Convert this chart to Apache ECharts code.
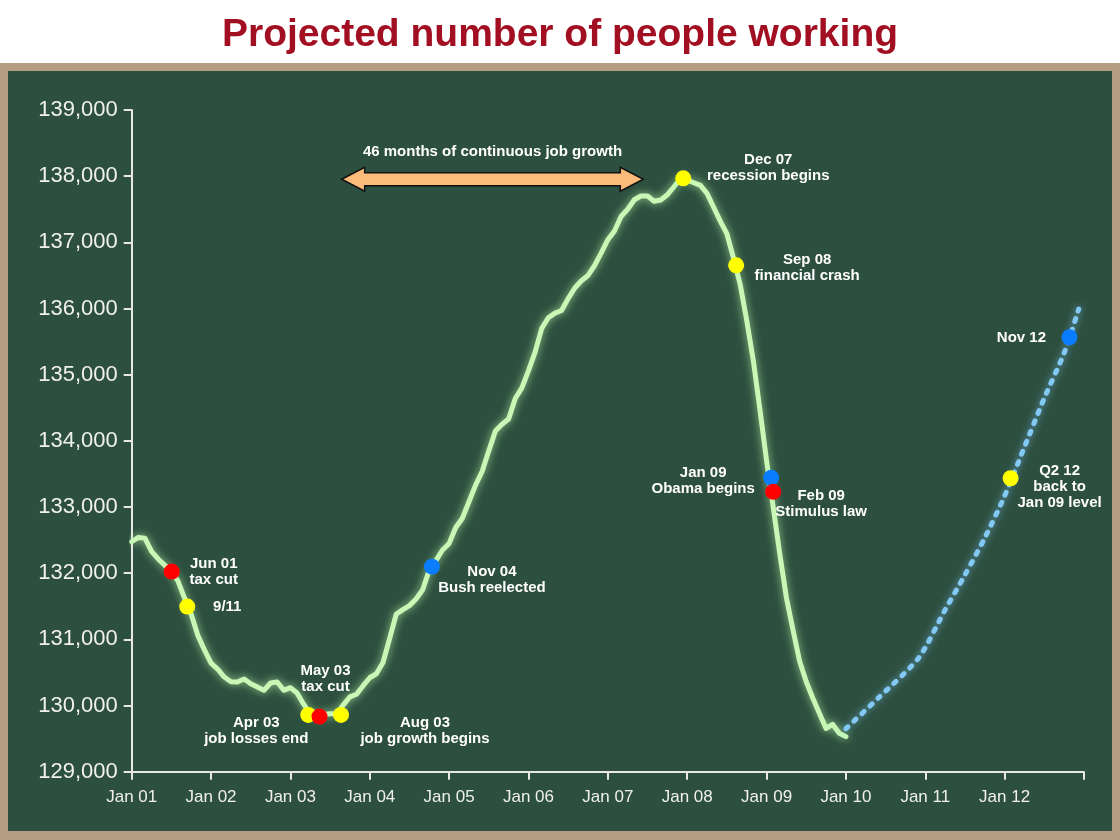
<!DOCTYPE html>
<html>
<head>
<meta charset="utf-8">
<script src="https://cdn.jsdelivr.net/npm/echarts@6/dist/echarts.min.js"></script>
<style>
  html, body { margin: 0; padding: 0; background: #ffffff; }
  #chart { width: 1120px; height: 840px; }
</style>
</head>
<body>
<div id="chart"></div>
<script>
// ---------- DATA ----------
// Monthly payroll employment (thousands), month index 0 = Jan 01
const actualValues = [
  132475, 132540, 132530, 132330, 132215, 132120, 132037, 131880, 131620, 131380, 131060, 130840,
  130640, 130550, 130430, 130360, 130355, 130400, 130330, 130280, 130230, 130340, 130355, 130230,
  130270, 130190, 130020, 129870, 129855, 129865, 129877, 129877, 130010, 130130, 130170, 130300,
  130420, 130480, 130650, 131010, 131380, 131450, 131510, 131610, 131750, 132050, 132190, 132350,
  132450, 132690, 132830, 133080, 133330, 133540, 133850, 134150, 134250, 134330, 134640, 134800,
  135060, 135340, 135700, 135860, 135930, 135970, 136150, 136310, 136420, 136500, 136650, 136840,
  137040, 137170, 137391, 137500, 137643, 137700, 137700, 137620, 137640, 137720, 137840, 137965,
  137940, 137900, 137860, 137740, 137530, 137320, 137130, 136760, 136370, 135820, 135210, 134470,
  133700, 133000, 132290, 131630, 131140, 130670, 130360, 130110, 129880, 129653, 129715, 129580,
  129530
];
// Projection (dotted)
const projMonths = [108, 113, 119, 123, 126, 129, 132, 135, 138, 141, 143.2];
const projValues = [129650, 130124, 130720, 131446, 131974, 132533, 133168, 133908, 134648, 135328, 135990];

// Event markers
const eventMonths = [6.05, 8.4, 26.7, 28.4, 31.65, 45.4, 83.4, 91.4, 96.7, 97.0, 132.9, 141.8];
const eventValues = [132025, 131495, 129858, 129833, 129858, 132099, 137968, 136653, 133441, 133231, 133435, 135566];
const eventLabels = [
  'Jun 01\ntax cut', '9/11', 'Apr 03\njob losses end', 'May 03\ntax cut', 'Aug 03\njob growth begins',
  'Nov 04\nBush reelected', 'Dec 07\nrecession begins', 'Sep 08\nfinancial crash', 'Jan 09\nObama begins',
  'Feb 09\nStimulus law', 'Q2 12\nback to\nJan 09 level', 'Nov 12'
];
const eventKinds = ['red', 'yellow', 'yellow', 'red', 'yellow', 'blue', 'yellow', 'yellow', 'blue', 'red', 'yellow', 'blue'];

// Growth-span arrow: [start month, end month, value]
const arrowSpan = [31.75, 77.36, 137953];
const arrowText = '46 months of continuous job growth';

const yTicks = [129000, 130000, 131000, 132000, 133000, 134000, 135000, 136000, 137000, 138000, 139000];
const titleText = 'Projected number of people working';

// ---------- STYLE / LAYOUT ----------
const kindColor = { red: '#ff0000', yellow: '#ffff00', blue: '#0a7cff' };
const labelOffsets = [
  [42, 0], [40, 0], [-52, 16], [6, -38], [84, 16], [60, 13], [85, -10],
  [71, 3], [-68, 3], [48, 12], [49, 9], [-48, 1]
];
const labelFont = { color: '#ffffff', fontSize: 15, fontWeight: 'bold', fontFamily: 'Liberation Sans, Arial, sans-serif', lineHeight: 16 };

const chart = echarts.init(document.getElementById('chart'), null, { renderer: 'canvas' });

const lineData = actualValues.map((v, i) => [i, v]);
const projData = projMonths.map((m, i) => [m, projValues[i]]);
const eventData = eventMonths.map((m, i) => ({
  value: [m, eventValues[i]],
  itemStyle: { color: kindColor[eventKinds[i]], opacity: 1 },
  label: {
    show: true,
    formatter: eventLabels[i],
    position: 'inside',
    offset: labelOffsets[i],
    align: 'center',
    verticalAlign: 'middle',
    opacity: 1,
    ...labelFont
  }
}));

const option = {
  animation: false,
  backgroundColor: '#ffffff',
  graphic: [
    { type: 'rect', z: -10, silent: true, shape: { x: 0, y: 63, width: 1120, height: 777 }, style: { fill: '#b39c82' } },
    { type: 'rect', z: -9, silent: true, shape: { x: 8, y: 71, width: 1104, height: 760 }, style: { fill: '#2d4f3f' } },
    { type: 'text', z: 10, left: 'center', top: 16,
      style: { text: titleText, fill: '#a30f22', font: 'bold 39px "Liberation Sans", Arial, sans-serif' } }
  ],
  grid: { left: 131.7, right: 36, top: 110, bottom: 68.3, containLabel: false },
  xAxis: {
    type: 'value', min: 0, max: 144, interval: 12,
    axisLine: { show: true, lineStyle: { color: '#e8e8e8', width: 2 } },
    axisTick: { show: true, length: 8, lineStyle: { color: '#e8e8e8', width: 2 } },
    splitLine: { show: false },
    axisLabel: {
      margin: 17, color: '#f0f0f0', fontSize: 17, fontFamily: 'Liberation Sans, Arial, sans-serif',
      showMaxLabel: true,
      formatter: function (v) {
        if (v >= 144) return '';
        const yr = Math.round(v / 12) + 1;
        return 'Jan ' + (yr < 10 ? '0' + yr : '' + yr);
      }
    }
  },
  yAxis: {
    type: 'value', min: yTicks[0], max: yTicks[yTicks.length - 1], interval: 1000,
    axisLine: { show: true, lineStyle: { color: '#e8e8e8', width: 2 } },
    axisTick: { show: true, length: 8, lineStyle: { color: '#e8e8e8', width: 2 } },
    splitLine: { show: false },
    axisLabel: {
      margin: 14, color: '#f0f0f0', fontSize: 22, fontFamily: 'Liberation Sans, Arial, sans-serif',
      formatter: function (v) { return v.toLocaleString('en-US'); }
    }
  },
  series: [
    {
      type: 'line', data: lineData, showSymbol: false, symbol: 'none', z: 3,
      lineStyle: { color: '#c8f7b6', width: 5, shadowBlur: 9, shadowColor: 'rgba(190,255,170,0.75)', cap: 'round', join: 'round' }
    },
    {
      type: 'line', data: projData, showSymbol: false, symbol: 'none', z: 3, smooth: 0.25,
      lineStyle: { color: '#82c9f4', width: 5, type: [3, 8], cap: 'round', shadowBlur: 7, shadowColor: 'rgba(130,200,255,0.7)' }
    },
    {
      type: 'scatter', data: eventData, symbol: 'circle', symbolSize: 16, z: 5,
      itemStyle: { opacity: 1 }
    },
    {
      type: 'custom', z: 4,
      data: [arrowSpan],
      encode: { x: [0, 1], y: 2 },
      clip: false,
      renderItem: function (params, api) {
        const p1 = api.coord([api.value(0), api.value(2)]);
        const p2 = api.coord([api.value(1), api.value(2)]);
        const sh = 6.5, hh = 12, hl = 23;
        const y = p1[1];
        const pts = [
          [p1[0], y], [p1[0] + hl, y - hh], [p1[0] + hl, y - sh], [p2[0] - hl, y - sh], [p2[0] - hl, y - hh],
          [p2[0], y], [p2[0] - hl, y + hh], [p2[0] - hl, y + sh], [p1[0] + hl, y + sh], [p1[0] + hl, y + hh]
        ];
        return {
          type: 'group',
          children: [
            { type: 'polygon', shape: { points: pts }, style: { fill: '#fbbb7a', stroke: '#111111', lineWidth: 1.5 } },
            { type: 'text', style: {
                x: (p1[0] + p2[0]) / 2, y: y - 27, text: arrowText, align: 'center', verticalAlign: 'middle',
                fill: '#ffffff', font: 'bold 15px "Liberation Sans", Arial, sans-serif' } }
          ]
        };
      }
    }
  ]
};
chart.setOption(option);
</script>
</body>
</html>
